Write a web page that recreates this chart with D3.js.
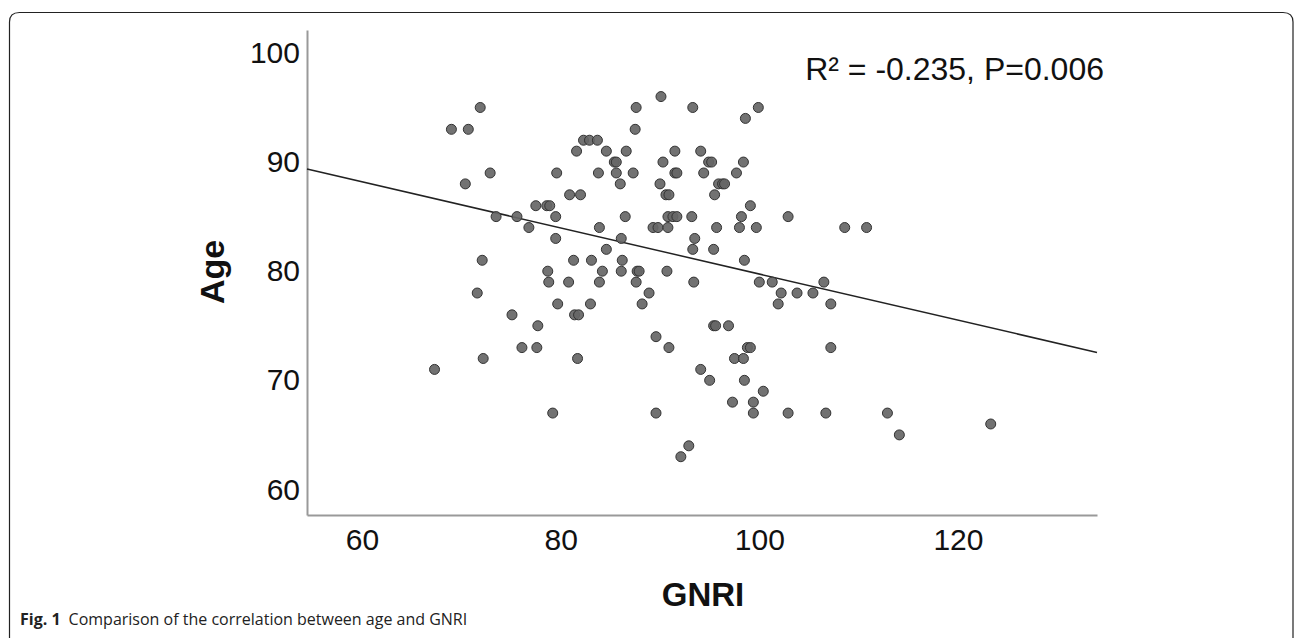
<!DOCTYPE html>
<html>
<head>
<meta charset="utf-8">
<script src="https://cdn.jsdelivr.net/npm/d3@7"></script>
<style>
  body { margin: 0; background: #fff; }
  svg { display: block; }
</style>
</head>
<body>
<svg id="chart" width="1295" height="638"></svg>
<script>
// GNRI (x) and age (y), one entry per dot
const gnri = [
  90.1,
  71.9, 87.6, 93.3, 99.9,
  98.6,
  69.0, 70.7, 87.5,
  82.3, 82.9, 83.7,
  81.6, 84.6, 86.6, 91.5, 94.1,
  85.4, 85.6, 90.3, 94.9, 95.2, 98.4,
  72.9, 79.6, 83.8, 85.6, 87.3, 91.5, 91.7, 94.4, 97.7,
  70.4, 86.0, 90.0, 95.9, 96.3, 96.5,
  80.9, 82.0, 90.6, 90.9, 95.5,
  77.5, 78.6, 78.9, 99.1,
  73.5, 75.6, 79.5, 86.5, 90.8, 91.3, 91.7, 93.2, 98.2, 102.9,
  76.8, 83.9, 89.3, 89.8, 90.8, 95.7, 98.0, 99.7, 108.6, 110.8,
  79.5, 86.1, 93.5,
  84.6, 93.3, 95.4,
  72.1, 81.3, 83.1, 86.2, 98.5,
  78.7, 84.2, 86.1, 87.7, 87.9, 90.7,
  78.8, 80.8, 83.9, 87.6, 93.4, 100.0, 101.3, 106.5,
  71.6, 88.9, 102.2, 103.8, 105.4,
  79.7, 83.0, 88.2, 101.9, 107.2,
  75.1, 81.4, 81.8,
  77.7, 95.4, 95.6, 96.9,
  89.6,
  76.1, 77.6, 90.9, 98.8, 99.1, 107.2,
  72.2, 81.7, 97.5, 98.4,
  67.3, 94.1,
  95.0, 98.5,
  100.4,
  97.3, 99.4,
  79.2, 89.6, 99.4, 102.9, 106.7, 112.9,
  123.3,
  114.1,
  92.9,
  92.1
];
const age = [
  96,
  95, 95, 95, 95,
  94,
  93, 93, 93,
  92, 92, 92,
  91, 91, 91, 91, 91,
  90, 90, 90, 90, 90, 90,
  89, 89, 89, 89, 89, 89, 89, 89, 89,
  88, 88, 88, 88, 88, 88,
  87, 87, 87, 87, 87,
  86, 86, 86, 86,
  85, 85, 85, 85, 85, 85, 85, 85, 85, 85,
  84, 84, 84, 84, 84, 84, 84, 84, 84, 84,
  83, 83, 83,
  82, 82, 82,
  81, 81, 81, 81, 81,
  80, 80, 80, 80, 80, 80,
  79, 79, 79, 79, 79, 79, 79, 79,
  78, 78, 78, 78, 78,
  77, 77, 77, 77, 77,
  76, 76, 76,
  75, 75, 75, 75,
  74,
  73, 73, 73, 73, 73, 73,
  72, 72, 72, 72,
  71, 71,
  70, 70,
  69,
  68, 68,
  67, 67, 67, 67, 67, 67,
  66,
  65,
  64,
  63
];
const xTicks = [60, 80, 100, 120];
const yTicks = [60, 70, 80, 90, 100];

// fitted line as drawn in the figure
const fitIntercept = 100.87;
const fitSlope = -0.2113;

const annotation = "R\u00B2 = -0.235,  P=0.006";
const xTitle = "GNRI";
const yTitle = "Age";

const svg = d3.select("svg#chart");

// figure frame, open at the bottom
svg.append("path")
    .attr("d", "M9.5,660 L9.5,22 Q9.5,12.5 19.5,12.5 L1283,12.5 Q1293,12.5 1293,22 L1293,660")
    .attr("fill", "none")
    .attr("stroke", "#222")
    .attr("stroke-width", 1.2);

const plotL = 307, plotR = 1097, plotT = 30, plotB = 515;

const x = d3.scaleLinear().domain([54.46, 134.0]).range([plotL, plotR]);
const y = d3.scaleLinear().domain([57.66, 102.1]).range([plotB, plotT]);

const xAxis = svg.append("g")
    .attr("transform", `translate(0,${plotB})`)
    .call(d3.axisBottom(x).tickValues(xTicks).tickSize(0).tickPadding(14));
const yAxis = svg.append("g")
    .attr("transform", `translate(${plotL},0)`)
    .call(d3.axisLeft(y).tickValues(yTicks).tickSize(0).tickPadding(7));

[xAxis, yAxis].forEach(g => {
    g.select(".domain").attr("stroke", "#999").attr("stroke-width", 2);
    g.selectAll("text")
        .attr("fill", "#111")
        .style("font-family", "'Liberation Sans', Arial, sans-serif")
        .style("font-size", "30px");
});
xAxis.selectAll("text").attr("dy", "0.71em");

// regression line
const [x0, x1] = x.domain();
svg.append("line")
    .attr("x1", x(x0)).attr("y1", y(fitIntercept + fitSlope * x0))
    .attr("x2", x(x1)).attr("y2", y(fitIntercept + fitSlope * x1))
    .attr("stroke", "#222")
    .attr("stroke-width", 1.5);

// dots
svg.append("g")
    .selectAll("circle")
    .data(gnri.map((g, i) => [g, age[i]]))
    .join("circle")
    .attr("cx", d => x(d[0]))
    .attr("cy", d => y(d[1]))
    .attr("r", 5)
    .attr("fill", "#666")
    .attr("fill-opacity", 0.92)
    .attr("stroke", "#333")
    .attr("stroke-width", 1);

svg.append("text")
    .attr("x", 1104)
    .attr("y", 80)
    .attr("text-anchor", "end")
    .style("font-family", "'Liberation Sans', Arial, sans-serif")
    .style("font-size", "32px")
    .attr("fill", "#111")
    .text(annotation);

svg.append("text")
    .attr("x", 703)
    .attr("y", 606)
    .attr("text-anchor", "middle")
    .style("font-family", "'Liberation Sans', Arial, sans-serif")
    .style("font-size", "33px")
    .style("font-weight", "bold")
    .attr("fill", "#111")
    .text(xTitle);

svg.append("text")
    .attr("transform", "translate(224,272) rotate(-90)")
    .attr("text-anchor", "middle")
    .style("font-family", "'Liberation Sans', Arial, sans-serif")
    .style("font-size", "34px")
    .style("font-weight", "bold")
    .attr("fill", "#111")
    .text(yTitle);

// caption
const cap = svg.append("text")
    .attr("x", 20)
    .attr("y", 625)
    .style("font-family", "'Open Sans', 'Noto Sans', sans-serif")
    .style("font-size", "16px")
    .attr("fill", "#222");
cap.append("tspan").style("font-weight", "bold").text("Fig. 1");
cap.append("tspan").attr("dx", 8).text("Comparison of the correlation between age and GNRI");
</script>
</body>
</html>
